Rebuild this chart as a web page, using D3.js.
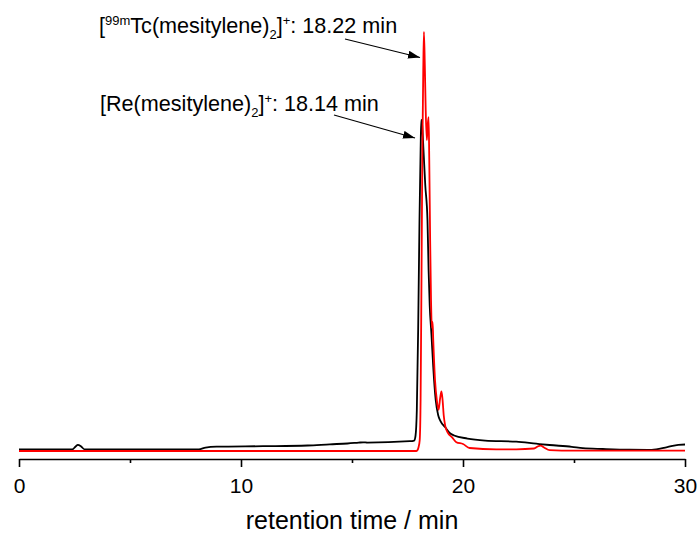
<!DOCTYPE html>
<html><head><meta charset="utf-8">
<script src="https://cdn.jsdelivr.net/npm/d3@7"></script>
<style>html,body{margin:0;padding:0;background:#fff}svg{display:block}</style>
</head><body>
<svg id="chart" width="699" height="534"></svg>
<script>
// Re reference (black) chromatogram: [time (min), intensity (a.u.)]
const reTime = [0,2.4,2.55,2.65,2.8,2.95,8.1,8.4,8.9,11,13,14,14.8,15.3,15.5,15.7,17.6,17.8,17.86,17.92,17.98,18.04,18.09,18.12,18.16,18.22,18.3,18.4,18.45,18.5,18.58,18.66,18.77,18.88,18.98,19.19,19.4,19.6,20.2,21,22.4,23.3,23.9,24.9,25.4,26.3,27.5,28.5,29.2,29.7,30];
const reSignal = [0.36,0.36,1.07,1.48,1.07,0.41,0.41,0.81,1.03,1.15,1.31,1.6,1.79,2.0,2.08,2.0,2.34,2.5,3.58,9.79,28.9,55.1,71.8,79.0,77.8,71.8,63.5,55.1,43.2,34.8,27.7,20.0,12.2,8.6,7.2,5.73,4.3,3.7,2.98,2.5,2.22,1.74,1.43,1.0,0.67,0.48,0.31,0.29,0.95,1.48,1.55];
// 99mTc (red) radio trace
const tcTime = [0,17.9,17.96,18.0,18.05,18.09,18.13,18.17,18.21,18.24,18.28,18.32,18.37,18.41,18.45,18.48,18.52,18.56,18.6,18.63,18.66,18.74,18.82,18.9,18.97,19.03,19.08,19.13,19.2,19.3,19.5,19.7,20.0,20.3,21.5,22.4,23.2,23.4,23.5,23.65,23.9,25,30];
const tcSignal = [0,0,0.29,0.95,2.6,12.2,40.8,71.8,90.9,100,92.1,81.4,74.2,77.8,79.7,69.5,50.4,36.0,29.4,30.8,26.5,16.9,12.2,9.8,12.6,14.2,12.2,8.6,6.0,4.5,3.3,2.1,1.67,0.72,0.41,0.41,0.6,1.19,1.26,0.84,0.19,0.07,0.07];
const majorTicks = [0,10,20,30];
const minorTicks = [5,15,25];
const xTitle = "retention time / min";

const svg = d3.select("#chart");
const font = "'Liberation Sans', Arial, sans-serif";
const x = d3.scaleLinear().domain([0,30]).range([19,685]);
const y = d3.scaleLinear().domain([0,100]).range([451,32]);

const reData = reTime.map((t,i)=>[t,reSignal[i]]);
const tcData = tcTime.map((t,i)=>[t,tcSignal[i]]);
const line = d3.line().x(d=>x(d[0])).y(d=>y(d[1])).curve(d3.curveMonotoneX);

svg.append("path").datum(reData).attr("d",line).attr("fill","none").attr("stroke","#000").attr("stroke-width",1.8).attr("stroke-linejoin","round");
svg.append("path").datum(tcData).attr("d",line).attr("fill","none").attr("stroke","#ff0000").attr("stroke-width",1.8).attr("stroke-linejoin","round");

// axis
const axisY = 459;
const ax = svg.append("g").attr("transform",`translate(0,${axisY})`);
ax.call(d3.axisBottom(x).tickValues(majorTicks).tickSize(8).tickSizeOuter(0).tickPadding(11).tickFormat(d3.format("d")));
ax.select(".domain").attr("stroke","#000").attr("stroke-width",1.6);
ax.selectAll(".tick line").attr("stroke","#000").attr("stroke-width",1.6);
ax.selectAll(".tick text").attr("font-family",font).attr("font-size",21).attr("fill","#000");
const ax2 = svg.append("g").attr("transform",`translate(0,${axisY})`);
ax2.call(d3.axisBottom(x).tickValues(minorTicks).tickSize(4).tickFormat(""));
ax2.select(".domain").remove();
ax2.selectAll(".tick line").attr("stroke","#000").attr("stroke-width",1.6);

svg.append("text").attr("x",352).attr("y",529).attr("text-anchor","middle").attr("font-family",font).attr("font-size",25).text(xTitle);

// annotations
const defs = svg.append("defs");
defs.append("marker").attr("id","arr").attr("viewBox","0 0 12 8").attr("refX",12).attr("refY",4)
  .attr("markerWidth",12).attr("markerHeight",8).attr("markerUnits","userSpaceOnUse").attr("orient","auto")
  .append("path").attr("d","M0,0L12,4L0,8Z").attr("fill","#000");

function label(xp, yp, parts){
  const t = svg.append("text").attr("x",xp).attr("y",yp).attr("font-family",font).attr("font-size",21.6).attr("fill","#000");
  parts.forEach(p=>{
    const ts = t.append("tspan").text(p.t);
    if(p.s==="sup"){ ts.attr("font-size",13).attr("dy",-8); }
    else if(p.s==="sub"){ ts.attr("font-size",13).attr("dy",6); }
    if(p.back) ts.attr("dy",p.back);
  });
}
label(99,33,[{t:"["},{t:"99m",s:"sup"},{t:"Tc(mesitylene)",back:8},{t:"2",s:"sub"},{t:"]",back:-6},{t:"+",s:"sup"},{t:": 18.22 min",back:8}]);
label(100,111,[{t:"[Re(mesitylene)"},{t:"2",s:"sub"},{t:"]",back:-6},{t:"+",s:"sup"},{t:": 18.14 min",back:8}]);

svg.append("line").attr("x1",345).attr("y1",39).attr("x2",420).attr("y2",57.5).attr("stroke","#000").attr("stroke-width",1.2).attr("marker-end","url(#arr)");
svg.append("line").attr("x1",334).attr("y1",115).attr("x2",415).attr("y2",138).attr("stroke","#000").attr("stroke-width",1.2).attr("marker-end","url(#arr)");
</script>
</body></html>
